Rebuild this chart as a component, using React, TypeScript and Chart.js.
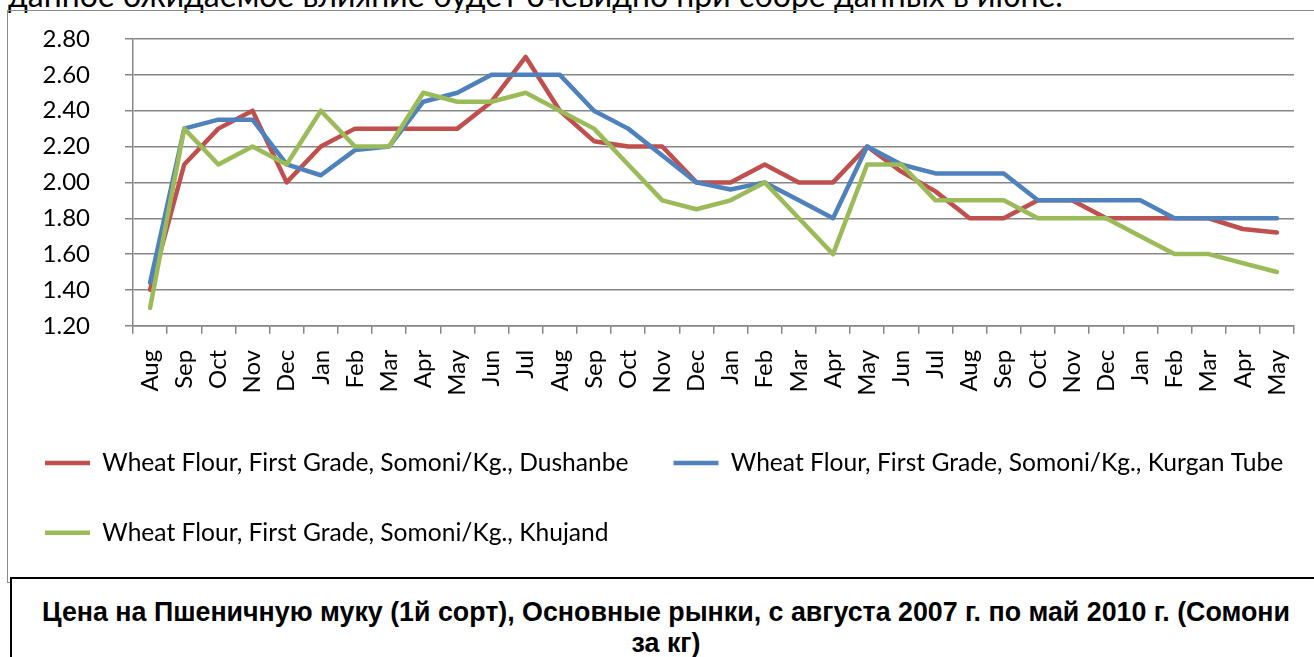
import React, { useEffect, useRef } from "react";
import { Chart, registerables } from "chart.js";

Chart.register(...registerables);

const months = [
  "Aug", "Sep", "Oct", "Nov", "Dec",
  "Jan", "Feb", "Mar", "Apr", "May", "Jun", "Jul", "Aug", "Sep", "Oct", "Nov", "Dec",
  "Jan", "Feb", "Mar", "Apr", "May", "Jun", "Jul", "Aug", "Sep", "Oct", "Nov", "Dec",
  "Jan", "Feb", "Mar", "Apr", "May",
];

const dushanbe = [
  1.40, 2.10, 2.30, 2.40, 2.00,
  2.20, 2.30, 2.30, 2.30, 2.30, 2.45, 2.70, 2.40, 2.23, 2.20, 2.20, 2.00,
  2.00, 2.10, 2.00, 2.00, 2.20, 2.06, 1.95, 1.80, 1.80, 1.90, 1.90, 1.80,
  1.80, 1.80, 1.80, 1.74, 1.72,
];

const kurganTube = [
  1.44, 2.30, 2.35, 2.35, 2.10,
  2.04, 2.18, 2.20, 2.45, 2.50, 2.60, 2.60, 2.60, 2.40, 2.30, 2.15, 2.00,
  1.96, 2.00, 1.90, 1.80, 2.20, 2.10, 2.05, 2.05, 2.05, 1.90, 1.90, 1.90,
  1.90, 1.80, 1.80, 1.80, 1.80,
];

const khujand = [
  1.30, 2.30, 2.10, 2.20, 2.10,
  2.40, 2.20, 2.20, 2.50, 2.45, 2.45, 2.50, 2.40, 2.30, 2.10, 1.90, 1.85,
  1.90, 2.00, 1.80, 1.60, 2.10, 2.10, 1.90, 1.90, 1.90, 1.80, 1.80, 1.80,
  1.70, 1.60, 1.60, 1.55, 1.50,
];

const seriesNames = [
  "Wheat Flour, First Grade, Somoni/Kg., Dushanbe",
  "Wheat Flour, First Grade, Somoni/Kg., Kurgan Tube",
  "Wheat Flour, First Grade, Somoni/Kg., Khujand",
];

const RED = "#C0504D";
const BLUE = "#4F81BD";
const GREEN = "#9BBB59";
const GRID = "#868686";
const FONT = "Lato";
const FONT_SIZE = 24;
const LEGEND_FONT_SIZE = 24.6;

const CANVAS_W = 1400;
const CANVAS_H = 561;
const PLOT_LEFT = 133;
const PLOT_RIGHT = 1294;

export default function App() {
  const ref = useRef<HTMLCanvasElement>(null);

  useEffect(() => {
    if (!ref.current) return;
    const mk = (label: string, data: number[], color: string, order: number) => ({
      label,
      data,
      borderColor: color,
      backgroundColor: color,
      borderWidth: 4.5,
      pointRadius: 0,
      tension: 0,
      borderJoinStyle: "round" as const,
      borderCapStyle: "round" as const,
      order,
    });
    const chart = new Chart(ref.current, {
      type: "line",
      data: {
        labels: months,
        datasets: [
          mk(seriesNames[0], dushanbe, RED, 3),
          mk(seriesNames[1], kurganTube, BLUE, 2),
          mk(seriesNames[2], khujand, GREEN, 1),
        ],
      },
      options: {
        animation: false,
        responsive: false,
        devicePixelRatio: 1,
        layout: { padding: { left: 0, right: 0, top: 29, bottom: 16 } },
        plugins: {
          tooltip: { enabled: false },
          title: { display: false },
          legend: {
            position: "bottom",
            align: "start",
            labels: {
              usePointStyle: true,
              pointStyle: "line",
              pointStyleWidth: 45,
              padding: 45,
              color: "#000",
              font: { family: FONT, size: LEGEND_FONT_SIZE },
              sort: (a: any, b: any) => a.datasetIndex - b.datasetIndex,
            },
          },
        },
        scales: {
          x: {
            type: "category",
            offset: true,
            grid: {
              display: true,
              drawOnChartArea: false,
              drawTicks: true,
              tickLength: 8,
              color: GRID,
              lineWidth: 1.5,
              offset: true,
            },
            border: { display: true, color: GRID, width: 1.5 },
            ticks: {
              autoSkip: false,
              minRotation: 90,
              maxRotation: 90,
              padding: 16,
              color: "#000",
              font: { family: FONT, size: FONT_SIZE },
            },
            afterFit: (s: any) => {
              s.height = 80;
            },
          },
          y: {
            type: "linear",
            position: "left",
            min: 1.2,
            max: 2.8,
            grid: { color: GRID, lineWidth: 1.5, tickLength: 8, drawTicks: true },
            border: { display: true, color: GRID, width: 1.5 },
            ticks: {
              stepSize: 0.2,
              padding: 35,
              color: "#000",
              font: { family: FONT, size: FONT_SIZE },
              callback: (v: any) => Number(v).toFixed(2),
            },
            afterFit: (s: any) => {
              s.width = PLOT_LEFT;
              s.paddingTop = 12;
              s.paddingBottom = 12;
            },
          },
          yr: {
            type: "linear",
            position: "right",
            display: true,
            grid: { display: false, drawTicks: false },
            border: { display: false },
            ticks: { display: false },
            afterFit: (s: any) => {
              s.width = CANVAS_W - PLOT_RIGHT;
              s.paddingTop = 0;
              s.paddingBottom = 0;
            },
          },
        },
      },
    });
    return () => chart.destroy();
  }, []);

  return (
    <div
      style={{
        position: "absolute",
        left: 0,
        top: 0,
        width: 1314,
        height: 657,
        overflow: "hidden",
        background: "#fff",
      }}
    >
      <div
        style={{
          position: "absolute",
          left: 8,
          top: -21,
          whiteSpace: "nowrap",
          fontFamily: FONT,
          fontSize: 32,
          lineHeight: "32px",
          color: "#000",
        }}
      >
        данное ожидаемое влияние будет очевидно при сборе данных в июне.
      </div>
      <div
        style={{
          position: "absolute",
          left: 7,
          top: 10,
          width: 1400,
          height: 573,
          border: "1px solid #8c8c8c",
          boxSizing: "border-box",
        }}
      />
      <canvas
        ref={ref}
        width={CANVAS_W}
        height={CANVAS_H}
        style={{
          position: "absolute",
          left: 0,
          top: 10,
          width: CANVAS_W,
          height: CANVAS_H,
        }}
      />
      <div
        style={{
          position: "absolute",
          left: 10,
          top: 577,
          width: 1308,
          height: 120,
          border: "2px solid #000",
          background: "#fff",
          boxSizing: "content-box",
          fontFamily: "'Liberation Sans', Arial, sans-serif",
          fontWeight: "bold",
          fontSize: 26.8,
          lineHeight: "31px",
          textAlign: "center",
          paddingTop: 18,
          color: "#000",
          whiteSpace: "nowrap",
        }}
      >
        Цена на Пшеничную муку (1й сорт), Основные рынки, с августа 2007 г. по май 2010 г. (Сомони
        <br />
        за кг)
      </div>
    </div>
  );
}
